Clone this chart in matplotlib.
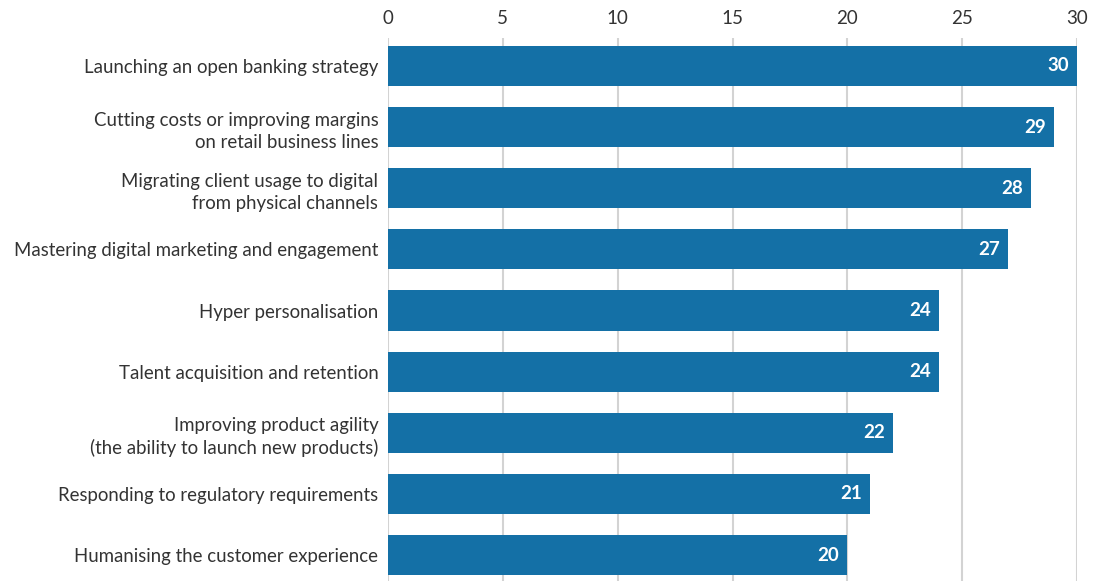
import matplotlib.pyplot as plt

OUTPUT_PATH = "out.png"

# Data
categories = [
    "Launching an open banking strategy",
    "Cutting costs or improving margins\non retail business lines",
    "Migrating client usage to digital\nfrom physical channels",
    "Mastering digital marketing and engagement",
    "Hyper personalisation",
    "Talent acquisition and retention",
    "Improving product agility\n(the ability to launch new products)",
    "Responding to regulatory requirements",
    "Humanising the customer experience",
]
values = [30, 29, 28, 27, 24, 24, 22, 21, 20]
x_ticks = [0, 5, 10, 15, 20, 25, 30]

BAR_COLOR = "#1470a6"
TEXT_COLOR = "#333333"
GRID_COLOR = "#d3d3d3"

plt.rcParams["font.family"] = ["Lato", "DejaVu Sans"]


def main():
    fig = plt.figure(figsize=(11.05, 5.81), dpi=100)
    ax = fig.add_axes([388 / 1105, 0, (1077 - 388) / 1105, 1 - 38 / 581])

    y_pos = list(range(len(categories)))
    ax.barh(y_pos, values, height=0.655, color=BAR_COLOR, zorder=3)

    # value labels inside bar ends
    for y, v in zip(y_pos, values):
        ax.text(v - 0.35, y, str(v), ha="right", va="center",
                color="white", fontsize=13.5, fontweight="bold", zorder=4)

    ax.set_xlim(0, 30)
    ax.set_ylim(8.425, -0.458)
    ax.set_xticks(x_ticks)
    ax.xaxis.tick_top()
    ax.tick_params(axis="x", length=0, pad=8, labelsize=13.5, labelcolor=TEXT_COLOR)
    ax.set_yticks(y_pos)
    ax.set_yticklabels(categories, fontsize=13.4, color=TEXT_COLOR, linespacing=1.35)
    ax.tick_params(axis="y", length=0, pad=7)

    ax.grid(axis="x", color=GRID_COLOR, linewidth=1.5, zorder=0)
    for spine in ax.spines.values():
        spine.set_visible(False)

    fig.savefig(OUTPUT_PATH, dpi=100)
    plt.close(fig)


if __name__ == "__main__":
    main()
